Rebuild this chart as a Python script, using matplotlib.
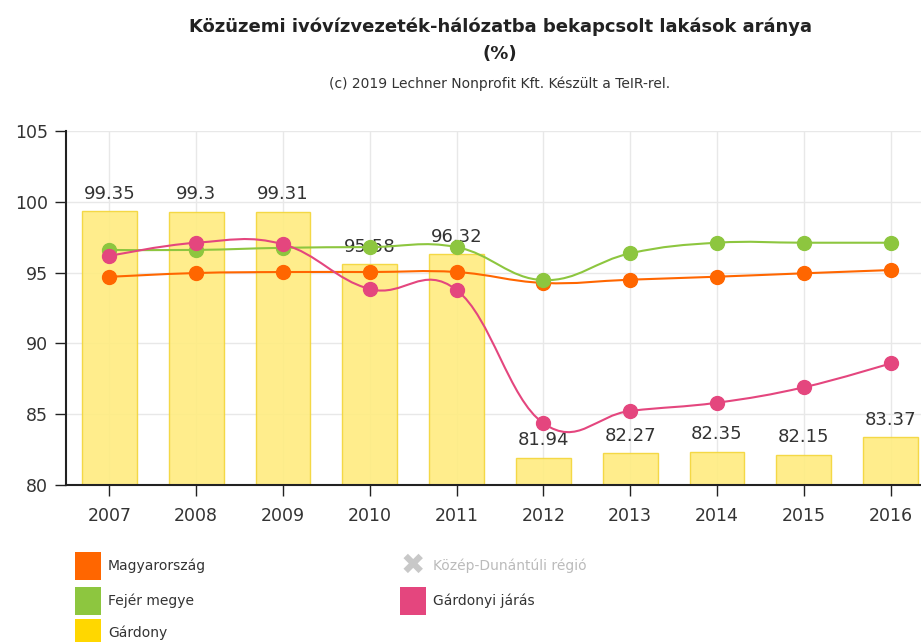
import numpy as np
import matplotlib
matplotlib.use("Agg")
import matplotlib.pyplot as plt
from matplotlib.path import Path
from matplotlib.patches import PathPatch, Rectangle

years = ["2007", "2008", "2009", "2010", "2011", "2012", "2013", "2014", "2015", "2016"]
gardony = [99.35, 99.3, 99.31, 95.58, 96.32, 81.94, 82.27, 82.35, 82.15, 83.37]
magyarorszag = [94.7, 94.97, 95.04, 95.04, 95.04, 94.27, 94.5, 94.71, 94.95, 95.18]
fejer = [96.6, 96.6, 96.75, 96.8, 96.8, 94.47, 96.36, 97.11, 97.11, 97.11]
gardonyi_jaras = [96.17, 97.11, 97.0, 93.84, 93.77, 84.36, 85.23, 85.81, 86.9, 88.59]

C_ORANGE = "#FF6600"
C_GREEN = "#8DC63F"
C_PINK = "#E4467E"
C_BAR = "#FFEC80"
C_BAR_EDGE = "#F3D538"
C_TEXT = "#333333"


def spline_path(xs, ys, smoothing=1.5):
    # cubic bezier segments through every point (no overshoot clamping)
    n = len(xs)
    left = [None] * n
    right = [None] * n
    denom = smoothing + 1
    for i in range(n):
        x, y = xs[i], ys[i]
        if i == 0 or i == n - 1:
            left[i] = (x, y)
            right[i] = (x, y)
            continue
        lx, ly = xs[i - 1], ys[i - 1]
        nx, ny = xs[i + 1], ys[i + 1]
        lcx = (smoothing * x + lx) / denom
        lcy = (smoothing * y + ly) / denom
        rcx = (smoothing * x + nx) / denom
        rcy = (smoothing * y + ny) / denom
        if rcx != lcx:
            corr = ((rcy - lcy) * (rcx - x)) / (rcx - lcx) + y - rcy
            lcy += corr
            rcy += corr
        left[i] = (lcx, lcy)
        right[i] = (rcx, rcy)
    verts = [(xs[0], ys[0])]
    codes = [Path.MOVETO]
    for i in range(1, n):
        verts += [right[i - 1], left[i], (xs[i], ys[i])]
        codes += [Path.CURVE4] * 3
    return Path(verts, codes)


fig = plt.figure(figsize=(9.21, 6.42), dpi=100)
ax = fig.add_axes([66 / 921, 157 / 642, 868 / 921, 354 / 642])

x = np.arange(len(years))
ax.set_xlim(-0.5, len(years) - 0.5)
ax.set_ylim(80, 105)

ax.bar(x, gardony, width=0.63, bottom=0, color=C_BAR, edgecolor=C_BAR_EDGE,
       linewidth=1, alpha=0.9, zorder=2)
for xi, v in zip(x, gardony):
    ax.annotate(f"{v:g}", (xi, v), xytext=(0, 6), textcoords="offset points",
                ha="center", va="bottom", fontsize=13, color=C_TEXT, zorder=3)

for vals, col, z in [(magyarorszag, C_ORANGE, 4), (fejer, C_GREEN, 5),
                     (gardonyi_jaras, C_PINK, 6)]:
    p = spline_path(list(x.astype(float)), vals)
    ax.add_patch(PathPatch(p, fill=False, edgecolor=col, linewidth=1.5, zorder=z))
    ax.plot(x, vals, linestyle="none", marker="o", markersize=10,
            markerfacecolor=col, markeredgecolor=col, zorder=z)

ax.set_yticks([80, 85, 90, 95, 100, 105])
ax.set_xticks(x)
ax.set_xticklabels(years)
ax.grid(True, color="#E8E8E8", linewidth=1, zorder=0)
ax.set_axisbelow(True)
for s in ["top", "right"]:
    ax.spines[s].set_visible(False)
for s in ["left", "bottom"]:
    ax.spines[s].set_color("#222222")
    ax.spines[s].set_linewidth(1.5)
ax.tick_params(axis="y", length=8, width=1, color="#222222", labelsize=12.5,
               labelcolor=C_TEXT, pad=5)
ax.tick_params(axis="x", length=8, width=1, color="#222222", labelsize=12.5,
               labelcolor=C_TEXT, pad=8)

fig.text(500 / 921, 1 - 27 / 642, "Közüzemi ivóvízvezeték-hálózatba bekapcsolt lakások aránya",
         ha="center", va="center", fontsize=13, fontweight="bold", color="#222222")
fig.text(500 / 921, 1 - 54 / 642, "(%)", ha="center", va="center", fontsize=13,
         fontweight="bold", color="#222222")
fig.text(500 / 921, 1 - 84 / 642, "(c) 2019 Lechner Nonprofit Kft. Készült a TeIR-rel.",
         ha="center", va="center", fontsize=10, color=C_TEXT)

# legend
legend_items = [
    (75, 566, C_ORANGE, "Magyarország", False),
    (75, 601, C_GREEN, "Fejér megye", False),
    (75, 633, "#FFD700", "Gárdony", False),
    (400, 566, "#C8C8C8", "Közép-Dunántúli régió", True),
    (400, 601, C_PINK, "Gárdonyi járás", False),
]
for lx, ly, col, label, hidden in legend_items:
    if hidden:
        fig.text((lx + 13) / 921, 1 - ly / 642, "✖", ha="center", va="center",
                 fontsize=21, color=col)
        tcol = "#BBBBBB"
    else:
        fig.patches.append(Rectangle((lx / 921, 1 - (ly + 14) / 642), 26 / 921, 28 / 642,
                                     transform=fig.transFigure, facecolor=col,
                                     edgecolor="none"))
        tcol = C_TEXT
    fig.text((lx + 33) / 921, 1 - ly / 642, label, ha="left", va="center",
             fontsize=10, color=tcol)

fig.savefig("out.png", dpi=100)
